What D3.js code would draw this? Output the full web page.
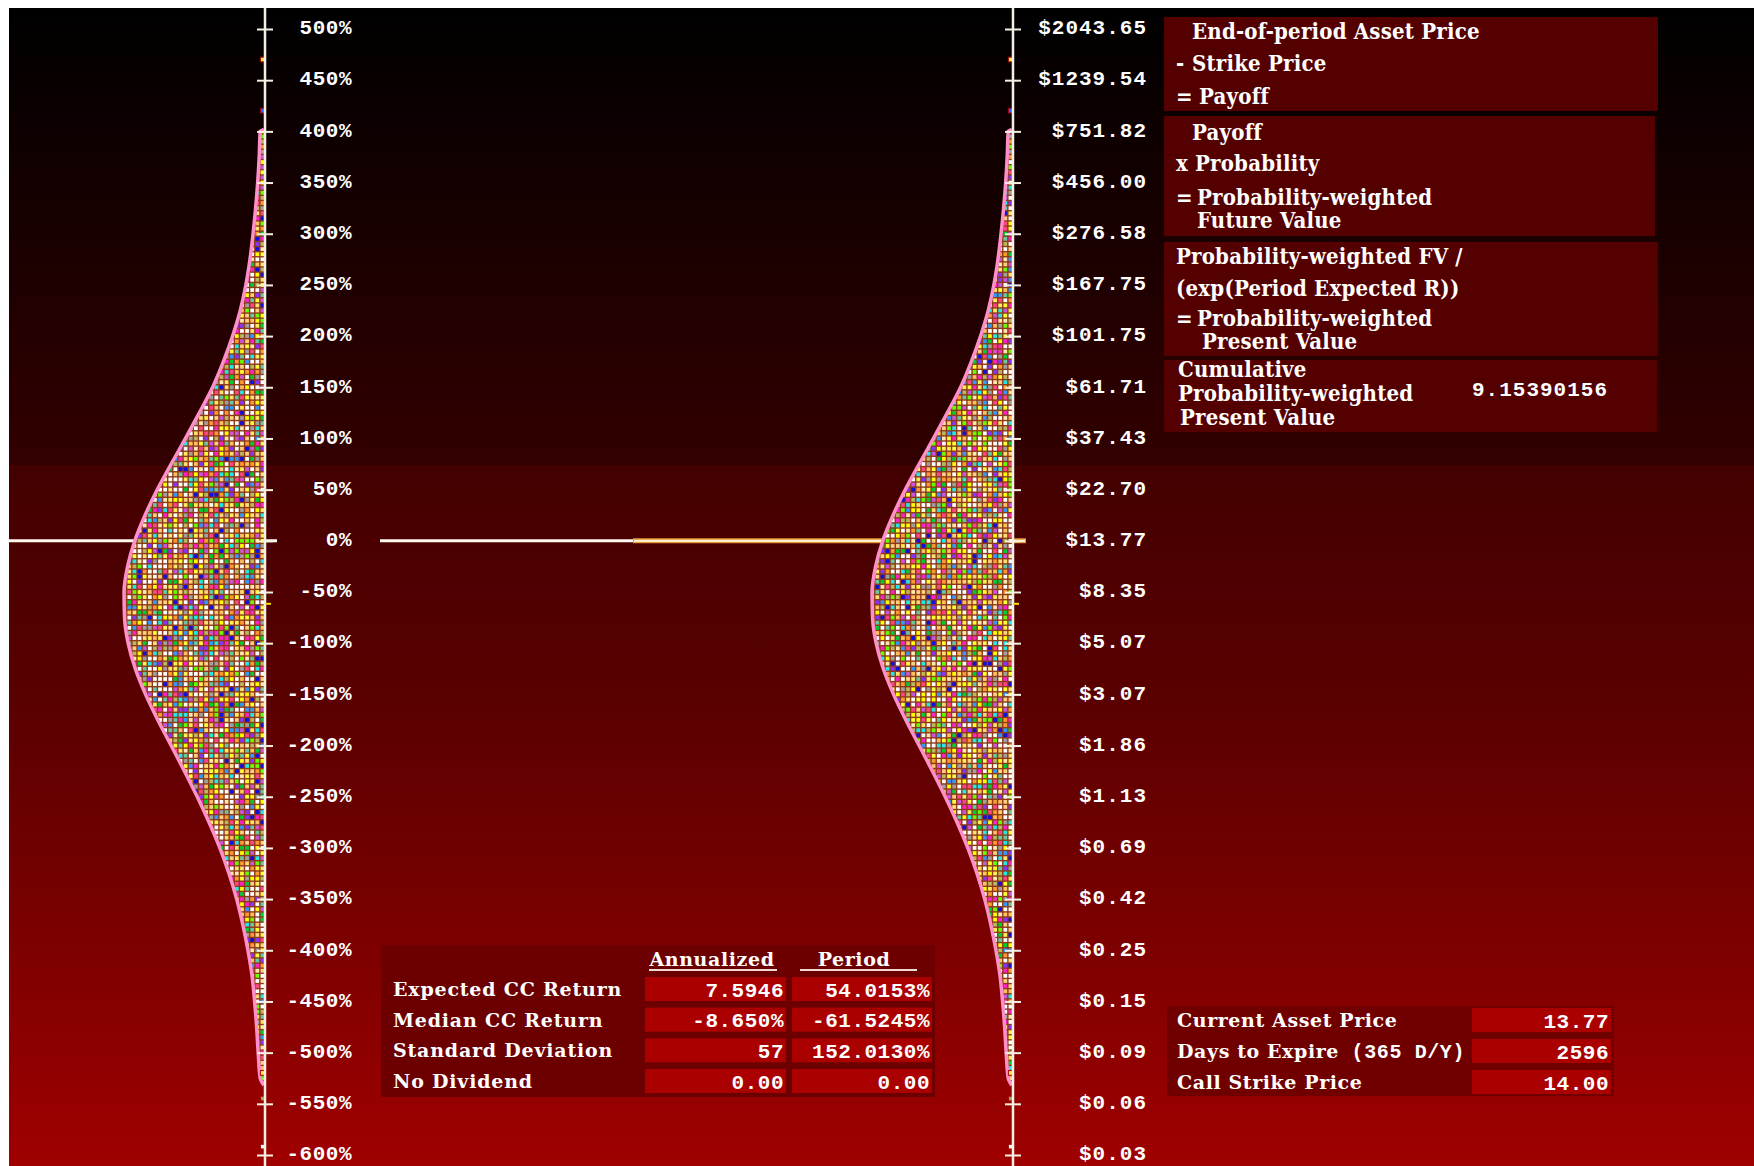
<!DOCTYPE html>
<html><head><meta charset="utf-8">
<script src="https://cdn.jsdelivr.net/npm/d3@7/dist/d3.min.js"></script>
<style>
html,body{margin:0;padding:0;background:#fff;}
svg{display:block;}
.mono{font-family:"Liberation Mono","DejaVu Sans Mono",monospace;font-weight:bold;fill:#fff;}
.serif{font-family:"DejaVu Serif",serif;font-weight:bold;fill:#fff;}
.tserif{font-family:"DejaVu Serif Condensed","DejaVu Serif",serif;font-stretch:condensed;font-weight:bold;fill:#fff;}
</style></head>
<body>
<svg id="chart" width="1754" height="1166"></svg>
<script>
// ---------------- DATA ----------------
const returnTicks = [500,450,400,350,300,250,200,150,100,50,0,-50,-100,-150,-200,-250,-300,-350,-400,-450,-500,-550,-600];
const returnTickLabels = ["500%","450%","400%","350%","300%","250%","200%","150%","100%","50%","0%","-50%","-100%","-150%","-200%","-250%","-300%","-350%","-400%","-450%","-500%","-550%","-600%"];
const priceTickLabels = ["$2043.65","$1239.54","$751.82","$456.00","$276.58","$167.75","$101.75","$61.71","$37.43","$22.70","$13.77","$8.35","$5.07","$3.07","$1.86","$1.13","$0.69","$0.42","$0.25","$0.15","$0.09","$0.06","$0.03"];

// distribution of simulated CC returns: number of dot columns at each return level (%)
const returnLevels = [402,400,375,350,325,300,275,250,225,200,175,150,125,100,75,50,25,0,-25,-50,-75,-100,-125,-150,-175,-200,-225,-250,-275,-300,-325,-350,-375,-400,-425,-450,-475,-500,-525,-532];
const dotCounts    = [0,0.7,0.9,1.2,1.6,2.1,2.7,3.5,4.6,6.1,7.9,10.0,12.6,15.3,18.1,20.8,23.2,25.2,26.6,27.3,27.2,26.5,25.1,23.1,20.7,18.1,15.5,13.0,10.7,8.6,6.8,5.3,4.1,3.1,2.3,1.8,1.4,1.1,0.7,0];
// isolated outlier samples (return %)
const outlierReturns = [470, 420, -520, -545, -592];

const medianReturn = -61.5245;
const currentLineStart = 0; // return level of current-price line

const statRows = ["Expected CC Return","Median CC Return","Standard Deviation","No Dividend"];
const statAnnualized = ["7.5946","-8.650%","57","0.00"];
const statPeriod = ["54.0153%","-61.5245%","152.0130%","0.00"];

const inputLabels = ["Current Asset Price","Days to Expire","Call Strike Price"];
const inputValues = ["13.77","2596","14.00"];

const formulaBoxes = [
  [["","End-of-period Asset Price"],["-","Strike Price"],["=","Payoff"]],
  [["","Payoff"],["x","Probability"],["=","Probability-weighted"],["","Future Value"]],
  [["","Probability-weighted FV /"],["","(exp(Period Expected R))"],["=","Probability-weighted"],["","Present Value"]],
  [["","Cumulative"],["","Probability-weighted"],["","Present Value"]]
];
const cumulativePV = "9.15390156";

// ---------------- DRAW ----------------
const svg = d3.select("#chart");
const defs = svg.append("defs");
const W = 1754, H = 1166, X0 = 9, Y0 = 8;

const grad = defs.append("linearGradient").attr("id","bg").attr("x1",0).attr("y1",0).attr("x2",0).attr("y2",1);
[[0,"#000000"],[0.395,"#330000"],[0.3951,"#430000"],[0.6,"#5a0000"],[0.85,"#840000"],[1,"#a00000"]]
  .forEach(([o,c])=>grad.append("stop").attr("offset",o).attr("stop-color",c));
svg.append("rect").attr("x",X0).attr("y",Y0).attr("width",W-X0).attr("height",H-Y0).attr("fill","url(#bg)");

const y = d3.scaleLinear().domain([500,-600]).range([29,1155]);
const pitch = 5.12;
const palette = ["#ffffff","#ffffff","#ffffff","#ffffff","#ffff33","#ffff00","#ffe070","#ffd080","#ffc060","#ff9a30","#00cc33","#66ff00","#22e8e8","#3399ff","#1010e0","#8833ff","#cc55dd","#ff22cc","#ff4488","#a0a0a0","#66c8a0","#b8b860","#ffee55","#ffe8b0"];
function hash(i,j,s){ let v = Math.sin(i*12.9898 + j*78.233 + s*37.719)*43758.5453; return v - Math.floor(v); }

const levelData = returnLevels.map((r,i)=>({r, c: dotCounts[i]}));

function panel(axisX, seed, lineSegs){
  const xs = d3.scaleLinear().domain([0,1]).range([axisX, axisX - pitch]);
  const g = svg.append("g");
  lineSegs(g);
  const clipId = "clip"+seed;
  const area = d3.area().curve(d3.curveMonotoneY)
    .y(d=>y(d.r)).x0(axisX+0.5).x1(d=>xs(d.c));
  defs.append("clipPath").attr("id",clipId).append("path").attr("d",area(levelData));
  const dots = g.append("g").attr("clip-path",`url(#${clipId})`);
  dots.append("path").attr("d",area(levelData)).attr("fill","#8c3a18");
  const cells = [];
  for(let r=410; r>=-535; r-=5){
    for(let k=0;k<29;k++) cells.push({r,k});
  }
  dots.selectAll("rect").data(cells).join("rect")
    .attr("x",d=>xs(d.k+1)+0.7).attr("y",d=>y(d.r+2.5)+0.7)
    .attr("width",pitch-1.4).attr("height",pitch-1.4)
    .attr("fill",d=>palette[Math.floor(hash(d.r,d.k,seed)*palette.length)]);
  const edge = d3.line().curve(d3.curveMonotoneY).y(d=>y(d.r)).x(d=>xs(d.c)-1.2);
  g.append("path").attr("d",edge(levelData)).attr("fill","none").attr("stroke","#ff8fc8").attr("stroke-width",3.5);
  g.selectAll("rect.out").data(outlierReturns).join("rect").attr("class","out")
    .attr("x",xs(1)+0.5).attr("y",d=>y(d)-2.5).attr("width",pitch-0.5).attr("height",pitch-0.5)
    .attr("fill",(d,i)=>["#ffee44","#2266ff","#ffee44","#88aa66","#ffffff"][i]).attr("stroke","#aa0000").attr("stroke-width",1);
  g.append("line").attr("x1",axisX).attr("x2",axisX).attr("y1",Y0).attr("y2",H).attr("stroke","#f4f0e4").attr("stroke-width",2.5);
  const ax = g.append("g").attr("transform",`translate(${axisX},0)`);
  ax.call(d3.axisRight(y).tickValues(returnTicks).tickSize(8).tickFormat(""));
  ax.append("g").call(d3.axisLeft(y).tickValues(returnTicks).tickSize(8).tickFormat(""));
  ax.selectAll(".domain").remove();
  ax.selectAll(".tick line").attr("stroke","#f4f0e4").attr("stroke-width",2);
  g.append("line").attr("x1",axisX).attr("x2",axisX+6).attr("y1",y(medianReturn)).attr("y2",y(medianReturn))
    .attr("stroke","#ffe000").attr("stroke-width",2);
  return g;
}

panel(265, 1, g=>{
  g.append("line").attr("x1",X0).attr("x2",277).attr("y1",y(currentLineStart)).attr("y2",y(currentLineStart))
    .attr("stroke","#fff8f0").attr("stroke-width",3);
});
panel(1013, 2, g=>{
  g.append("line").attr("x1",380).attr("x2",634).attr("y1",y(currentLineStart)).attr("y2",y(currentLineStart))
    .attr("stroke","#fff8f0").attr("stroke-width",3);
  g.append("line").attr("x1",633).attr("x2",1026).attr("y1",y(currentLineStart)).attr("y2",y(currentLineStart))
    .attr("stroke","#e89838").attr("stroke-width",5);
  g.append("line").attr("x1",634).attr("x2",1025).attr("y1",y(currentLineStart)).attr("y2",y(currentLineStart))
    .attr("stroke","#fff2c8").attr("stroke-width",2.2);
});

// tick labels
svg.append("g").selectAll("text").data(returnTicks).join("text").attr("class","mono")
  .attr("x",352).attr("y",d=>y(d)).attr("dy","0.25em").attr("text-anchor","end")
  .style("font-size","21px").style("letter-spacing","0.5px")
  .text((d,i)=>returnTickLabels[i]);
svg.append("g").selectAll("text").data(returnTicks).join("text").attr("class","mono")
  .attr("x",1147).attr("y",d=>y(d)).attr("dy","0.25em").attr("text-anchor","end")
  .style("font-size","21px").style("letter-spacing","1px")
  .text((d,i)=>priceTickLabels[i]);

// ---- stats box ----
const sb = svg.append("g");
sb.append("rect").attr("x",381).attr("y",945).attr("width",554).attr("height",152).attr("fill","#6c0000");
sb.append("text").attr("class","serif").attr("x",712).attr("y",966).attr("text-anchor","middle")
  .style("font-size","19px").style("letter-spacing","0.6px").text("Annualized");
sb.append("text").attr("class","serif").attr("x",854).attr("y",966).attr("text-anchor","middle")
  .style("font-size","19px").style("letter-spacing","0.6px").text("Period");
sb.append("line").attr("x1",649).attr("x2",777).attr("y1",970).attr("y2",970).attr("stroke","#f0d8d8").attr("stroke-width",2);
sb.append("line").attr("x1",800).attr("x2",917).attr("y1",970).attr("y2",970).attr("stroke","#f0d8d8").attr("stroke-width",2);
const rowY = d3.scalePoint().domain(statRows).range([989,1081]);
statRows.forEach((lab,i)=>{
  const cy = rowY(lab);
  sb.append("text").attr("class","serif").attr("x",393).attr("y",cy).attr("dy","0.36em")
    .style("font-size","19px").style("letter-spacing","0.8px").text(lab);
  sb.append("rect").attr("x",645).attr("y",cy-12).attr("width",141).attr("height",24).attr("fill","#aa0000");
  sb.append("rect").attr("x",792).attr("y",cy-12).attr("width",140).attr("height",24).attr("fill","#aa0000");
  sb.append("text").attr("class","mono").attr("x",784).attr("y",cy).attr("dy","0.36em").attr("text-anchor","end")
    .style("font-size","21px").style("letter-spacing","0.5px").text(statAnnualized[i]);
  sb.append("text").attr("class","mono").attr("x",930).attr("y",cy).attr("dy","0.36em").attr("text-anchor","end")
    .style("font-size","21px").style("letter-spacing","0.5px").text(statPeriod[i]);
});

// ---- input box ----
const ib = svg.append("g");
ib.append("rect").attr("x",1167).attr("y",1006).attr("width",447).attr("height",90).attr("fill","#700000");
const inY = d3.scalePoint().domain(inputLabels).range([1020,1082]);
inputLabels.forEach((lab,i)=>{
  const cy = inY(lab);
  const t = ib.append("text").attr("class","serif").attr("x",1177).attr("y",cy).attr("dy","0.36em")
    .style("font-size","19px").style("letter-spacing","0.6px");
  t.append("tspan").text(lab);
  if(i===1) t.append("tspan").attr("class","mono").style("font-size","20px").text(" (365 D/Y)");
  ib.append("rect").attr("x",1472).attr("y",cy-12).attr("width",139).attr("height",24).attr("fill","#aa0000");
  ib.append("text").attr("class","mono").attr("x",1609).attr("y",cy).attr("dy","0.36em").attr("text-anchor","end")
    .style("font-size","21px").style("letter-spacing","0.5px").text(inputValues[i]);
});

// ---- formula boxes ----
const boxGeom = [
  {y:17,h:94,w:494,lines:[32,64,97],tx:[1192,1192,1199]},
  {y:116,h:120,w:491,lines:[133,164,198,221],tx:[1192,1195,1197,1197]},
  {y:242,h:114,w:494,lines:[257,289,319,342],tx:[1176,1176,1197,1202]},
  {y:360,h:72,w:493,lines:[370,394,418],tx:[1178,1178,1180]}
];
const fb = svg.append("g");
formulaBoxes.forEach((box,bi)=>{
  const gm = boxGeom[bi];
  fb.append("rect").attr("x",1164).attr("y",gm.y).attr("width",gm.w).attr("height",gm.h).attr("fill","#540000");
  box.forEach((ln,li)=>{
    if(ln[0]) fb.append("text").attr("class","tserif").attr("x",1176).attr("y",gm.lines[li]).attr("dy","0.33em")
      .style("font-size","22px").text(ln[0]);
    fb.append("text").attr("class","tserif").attr("x",gm.tx[li]).attr("y",gm.lines[li]).attr("dy","0.33em")
      .style("font-size","22px").style("letter-spacing","0.2px").text(ln[1]);
  });
});
fb.append("text").attr("class","mono").attr("x",1608).attr("y",389).attr("dy","0.33em").attr("text-anchor","end")
  .style("font-size","21px").style("letter-spacing","1px").text(cumulativePV);
</script>
</body></html>
